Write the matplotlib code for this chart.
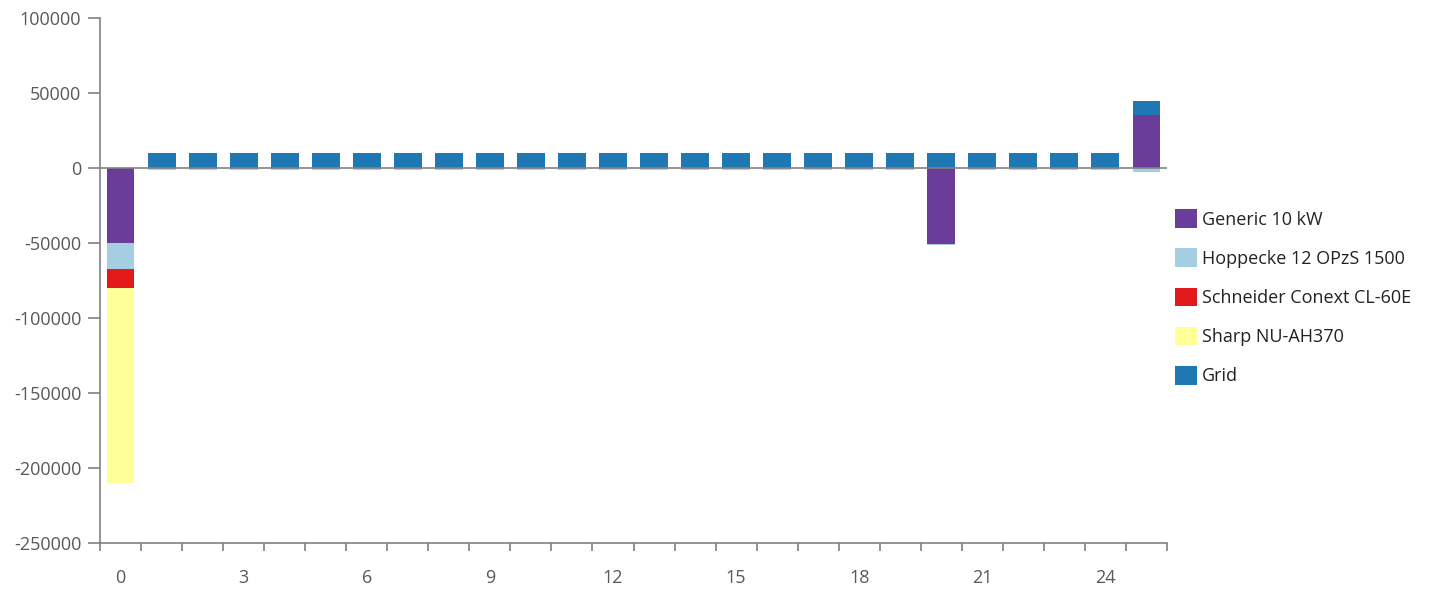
import matplotlib
matplotlib.use("Agg")
import matplotlib.pyplot as plt
import numpy as np
from matplotlib.ticker import FuncFormatter, MultipleLocator, FixedLocator

plt.rcParams['font.family'] = ['Open Sans', 'DejaVu Sans']
plt.rcParams['axes.unicode_minus'] = False

hours = list(range(26))
generic = [-50000] + [0]*19 + [-50500] + [0]*4 + [35500]
hoppecke = [-17300] + [-1500]*19 + [-1000] + [-1500]*4 + [-2500]
schneider = [-12400] + [0]*25
sharp = [-130000] + [0]*25
grid = [0] + [10000]*24 + [9200]

series = [
    ("Generic 10 kW", generic, "#6a3d9a"),
    ("Hoppecke 12 OPzS 1500", hoppecke, "#a6cee3"),
    ("Schneider Conext CL-60E", schneider, "#e31a1c"),
    ("Sharp NU-AH370", sharp, "#ffff99"),
    ("Grid", grid, "#1f78b4"),
]

fig = plt.figure(figsize=(14.36, 5.9), dpi=100)
ax = fig.add_axes([100/1436, 1-543/590, 1067/1436, 525/590])

x = np.array(hours)
pos_bottom = np.zeros(len(x))
neg_bottom = np.zeros(len(x))
for name, vals, color in series:
    v = np.array(vals, dtype=float)
    bottoms = np.where(v >= 0, pos_bottom, neg_bottom)
    ax.bar(x, v, width=0.68, bottom=bottoms, color=color, label=name, linewidth=0)
    pos_bottom += np.where(v > 0, v, 0)
    neg_bottom += np.where(v < 0, v, 0)

ax.axhline(0, color="#808080", linewidth=1.2, zorder=3)
ax.set_xlim(-0.5, 25.5)
ax.set_ylim(-250000, 100000)
ax.yaxis.set_major_locator(MultipleLocator(50000))
ax.yaxis.set_major_formatter(FuncFormatter(lambda v, p: f"{int(v)}"))

ax.set_xticks(list(range(0, 25, 3)))
ax.xaxis.set_minor_locator(FixedLocator(np.arange(-0.5, 26, 1.0)))
ax.tick_params(axis='x', which='major', length=0, pad=18.5, labelsize=13, colors="#595959")
ax.tick_params(axis='x', which='minor', length=6, width=1.2, color="#808080")
ax.tick_params(axis='y', which='major', length=8.5, width=1.2, color="#808080", labelsize=13, labelcolor="#595959", pad=5)

for s in ['top', 'right']:
    ax.spines[s].set_visible(False)
for s in ['left', 'bottom']:
    ax.spines[s].set_color("#808080")
    ax.spines[s].set_linewidth(1.2)

handles, labels = ax.get_legend_handles_labels()
leg = fig.legend(handles, labels, loc='upper left', bbox_to_anchor=(1168/1436, 1-202/590),
                 frameon=False, fontsize=13, handlelength=1.2, handleheight=1.2,
                 labelspacing=1.1, handletextpad=0.3, borderaxespad=0)
for t in leg.get_texts():
    t.set_color("#222222")

fig.savefig("out.png", dpi=100)
